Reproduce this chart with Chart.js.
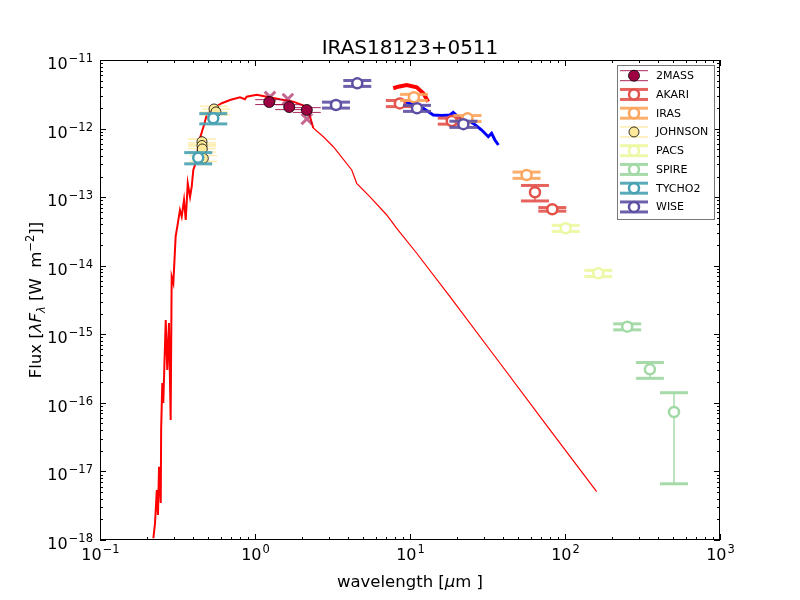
<!DOCTYPE html>
<html>
<head>
<meta charset="utf-8">
<script src="https://cdn.jsdelivr.net/npm/chart.js@4.4.0/dist/chart.umd.min.js"></script>
<style>
  body { margin: 0; background: #fff; }
</style>
</head>
<body>
<canvas id="sed" width="800" height="600"></canvas>
<script>
// photometry: wavelength in micron, flux (lambda F_lambda) in W m^-2
const twomassWave = [1.235, 1.662, 2.159];
const twomassFlux = [2.44e-12, 2.06e-12, 1.87e-12];
const twomassErr = [2.0e-13, 1.7e-13, 1.5e-13];

// the crossed-out 2MASS values
const flaggedWave = [1.25, 1.63, 2.16];
const flaggedFlux = [2.89e-12, 2.70e-12, 1.38e-12];

const akariWave = [8.6, 18.6, 64, 82.8];
const akariFlux = [2.33e-12, 1.29e-12, 1.18e-13, 6.65e-14];
const akariErr = [2.4e-13, 1.3e-13, 3.0e-14, 4.0e-15];

const irasWave = [10.6, 23.5, 56.5];
const irasFlux = [2.86e-12, 1.41e-12, 2.10e-13];
const irasErr = [2.9e-13, 1.4e-13, 2.2e-14];

const johnsonWave = [0.544, 0.560, 0.455, 0.455, 0.457, 0.464];
const johnsonFlux = [1.93e-12, 1.75e-12, 6.44e-13, 5.66e-13, 5.04e-13, 3.68e-13];
const johnsonErr = [1.9e-13, 1.7e-13, 6.0e-14, 5.5e-14, 5.0e-14, 3.6e-14];

const pacsWave = [101, 164];
const pacsFlux = [3.52e-14, 7.75e-15];
const pacsErr = [3.6e-15, 8.0e-16];

const spireWave = [252, 353, 505];
const spireFlux = [1.29e-15, 3.08e-16, 7.36e-17];
const spireErr = [1.3e-16, 8.0e-17, 6.7e-17];

const tychoWave = [0.43, 0.538];
const tychoFlux = [3.76e-13, 1.41e-12];
const tychoErr = [7.0e-14, 2.4e-13];

const wiseWave = [3.33, 4.57, 11.1, 22.1];
const wiseFlux = [2.21e-12, 4.57e-12, 1.98e-12, 1.16e-12];
const wiseErr = [2.2e-13, 4.5e-13, 2.0e-13, 1.2e-13];

// model SED
const modelWave = [0.221, 0.2265, 0.2325, 0.2366, 0.2404, 0.2466, 0.248, 0.2523, 0.256, 0.2655,
  0.2716, 0.2786, 0.2857, 0.290, 0.2973, 0.3076, 0.3152, 0.328, 0.3365, 0.3483,
  0.3573, 0.3683, 0.381, 0.3906, 0.400, 0.410, 0.4416, 0.469, 0.488, 0.538,
  0.610, 0.690, 0.800, 0.861, 0.883, 1.026, 1.19, 1.449, 1.766, 2.157,
  2.265, 2.377, 2.76, 3.20, 4.21, 4.53, 5.52, 7.08, 8.21, 11.05,
  18.1, 38.1, 80, 160];
const modelFlux = [1.06e-18, 1.77e-18, 5.36e-18, 2.32e-18, 1.17e-17, 3.47e-18, 4.02e-17, 1.95e-16, 9.95e-17, 1.62e-15,
  3.01e-16, 1.46e-15, 5.62e-17, 6.92e-15, 5.60e-15, 2.65e-14, 3.71e-14, 6.49e-14, 5.19e-14, 9.08e-14,
  4.64e-14, 1.59e-13, 1.01e-13, 1.42e-13, 2.49e-13, 2.94e-13, 7.29e-13, 1.13e-12, 1.58e-12, 1.98e-12,
  2.34e-12, 2.61e-12, 2.85e-12, 2.68e-12, 2.92e-12, 3.10e-12, 2.92e-12, 2.67e-12, 2.47e-12, 2.08e-12,
  1.49e-12, 1.02e-12, 7.61e-13, 5.44e-13, 2.49e-13, 1.59e-13, 1.01e-13, 5.49e-14, 3.51e-14, 1.52e-14,
  3.53e-15, 3.78e-16, 4.05e-17, 5.06e-18];

// spectra
const lrsWave = [7.8, 8.41, 9.52, 11.05, 12.19, 13.1];
const lrsFlux = [3.87e-12, 4.08e-12, 4.32e-12, 4.00e-12, 3.27e-12, 2.47e-12];
const irsWave = [8.61, 10.3, 12.19, 14.13, 16.08, 18.1, 19.0, 21.0, 23.0, 25.6, 29.0, 32.0, 33.6, 35.3, 37.2];
const irsFlux = [2.61e-12, 2.28e-12, 1.98e-12, 1.58e-12, 1.55e-12, 1.58e-12, 1.72e-12, 1.41e-12, 1.33e-12,
  1.19e-12, 9.53e-13, 7.61e-13, 8.53e-13, 6.81e-13, 5.76e-13];

const FONT = '"DejaVu Sans", sans-serif';
const CAP = 14;

function pts(w, f) {
  return w.map((v, i) => ({ x: v, y: f[i] }));
}

function survey(label, w, f, err, color, opts) {
  return Object.assign({
    label: label,
    data: pts(w, f),
    fluxErr: err,
    barColor: color,
    barWidth: 1.5,
    capWidth: 3,
    showLine: false,
    pointRadius: 5,
    pointBorderWidth: 2.5,
    pointBorderColor: color,
    pointBackgroundColor: '#ffffff'
  }, opts || {});
}

function line(ctx, x1, y1, x2, y2) {
  ctx.beginPath();
  ctx.moveTo(x1, y1);
  ctx.lineTo(x2, y2);
  ctx.stroke();
}

// vertical error bars with wide caps, drawn just under each survey's markers
const errorBars = {
  id: 'errorBars',
  beforeDatasetDraw(chart, args) {
    const ds = chart.data.datasets[args.index];
    if (!ds.fluxErr) return;
    const ctx = chart.ctx, xs = chart.scales.x, ys = chart.scales.y, a = chart.chartArea;
    ctx.save();
    ctx.beginPath();
    ctx.rect(a.left, a.top, a.right - a.left, a.bottom - a.top);
    ctx.clip();
    ctx.strokeStyle = ds.barColor;
    ds.data.forEach((p, i) => {
      const e = ds.fluxErr[i];
      const px = xs.getPixelForValue(p.x);
      const top = ys.getPixelForValue(p.y + e);
      const bot = ys.getPixelForValue(p.y - e);
      ctx.lineWidth = ds.barWidth;
      line(ctx, px, top, px, bot);
      ctx.lineWidth = ds.capWidth;
      line(ctx, px - CAP, top, px + CAP, top);
      line(ctx, px - CAP, bot, px + CAP, bot);
    });
    ctx.restore();
  }
};

function drawPow(ctx, exp, x, baseY, align) {
  const sup = (exp < 0 ? '\u2212' : '') + Math.abs(exp);
  ctx.font = '16px ' + FONT;
  const wb = ctx.measureText('10').width;
  ctx.font = '11.5px ' + FONT;
  const ws = ctx.measureText(sup).width;
  const total = wb + 1 + ws;
  const sx = align === 'center' ? x - total / 2 : x - total;
  ctx.font = '16px ' + FONT;
  ctx.fillText('10', sx, baseY);
  ctx.font = '11.5px ' + FONT;
  ctx.fillText(sup, sx + wb + 1, baseY - 7);
}

function drawRich(ctx, parts, cx, baseY) {
  let total = 0;
  parts.forEach(p => { ctx.font = p.f; p.w = ctx.measureText(p.t).width; total += p.w; });
  let x = cx - total / 2;
  parts.forEach(p => { ctx.font = p.f; ctx.fillText(p.t, x, baseY + (p.dy || 0)); x += p.w; });
}

const frame = {
  id: 'frame',
  afterDraw(chart) {
    const ctx = chart.ctx, xs = chart.scales.x, ys = chart.scales.y, a = chart.chartArea;
    ctx.save();
    ctx.strokeStyle = '#000';
    ctx.fillStyle = '#000';
    ctx.lineWidth = 1;
    ctx.strokeRect(a.left + 0.5, a.top + 0.5, a.right - a.left - 1, a.bottom - a.top - 1);

    ctx.textAlign = 'left';
    ctx.textBaseline = 'alphabetic';
    for (let d = -1; d <= 3; d++) {
      for (let k = 1; k <= 9; k++) {
        const v = k * Math.pow(10, d);
        if (v > 1000 * 1.0001) break;
        const px = Math.round(xs.getPixelForValue(v)) + 0.5;
        const len = k === 1 ? 6 : 3;
        line(ctx, px, a.bottom, px, a.bottom - len);
        line(ctx, px, a.top, px, a.top + len);
        if (k === 1) drawPow(ctx, d, px, 560, 'center');
      }
    }
    for (let d = -18; d <= -11; d++) {
      for (let k = 1; k <= 9; k++) {
        const v = k * Math.pow(10, d);
        if (d === -11 && k > 1) break;
        const py = Math.round(ys.getPixelForValue(v)) + 0.5;
        const len = k === 1 ? 6 : 3;
        line(ctx, a.left, py, a.left + len, py);
        line(ctx, a.right, py, a.right - len, py);
        if (k === 1) drawPow(ctx, d, a.left - 7, py + 8, 'right');
      }
    }

    // title and axis labels
    ctx.font = '20px ' + FONT;
    ctx.textAlign = 'center';
    ctx.fillText('IRAS18123+0511', (a.left + a.right) / 2, 54);
    ctx.textAlign = 'left';
    drawRich(ctx, [
      { t: 'wavelength [', f: '16.5px ' + FONT },
      { t: '\u03bc', f: 'italic 16.5px ' + FONT },
      { t: 'm ]', f: '16.5px ' + FONT }
    ], (a.left + a.right) / 2, 587);

    ctx.save();
    ctx.translate(41, (a.top + a.bottom) / 2);
    ctx.rotate(-Math.PI / 2);
    drawRich(ctx, [
      { t: 'Flux [', f: '16.5px ' + FONT },
      { t: '\u03bbF', f: 'italic 16.5px ' + FONT },
      { t: '\u03bb', f: 'italic 11.5px ' + FONT, dy: 4 },
      { t: ' [W  m', f: '16.5px ' + FONT },
      { t: '\u22122', f: '11.5px ' + FONT, dy: -7 },
      { t: ']]', f: '16.5px ' + FONT }
    ], 0, 0);
    ctx.restore();

    // legend
    const entries = chart.data.datasets.filter(ds => ds.fluxErr);
    ctx.fillStyle = '#fff';
    ctx.fillRect(617, 65, 98, 155);
    ctx.strokeStyle = '#777';
    ctx.lineWidth = 1;
    ctx.strokeRect(617.5, 65.5, 97, 154);
    entries.forEach((ds, i) => {
      const cy = 75.7 + i * 18.75, cx = 634;
      ctx.strokeStyle = ds.barColor;
      ctx.lineWidth = ds.barWidth;
      line(ctx, cx, cy - 5, cx, cy + 5);
      ctx.lineWidth = ds.capWidth;
      line(ctx, cx - CAP, cy - 5, cx + CAP, cy - 5);
      line(ctx, cx - CAP, cy + 5, cx + CAP, cy + 5);
      ctx.beginPath();
      ctx.arc(cx, cy, ds.pointRadius, 0, Math.PI * 2);
      ctx.fillStyle = ds.pointBackgroundColor;
      ctx.fill();
      ctx.lineWidth = ds.pointBorderWidth;
      ctx.strokeStyle = ds.pointBorderColor;
      ctx.stroke();
      ctx.fillStyle = '#000';
      ctx.font = '11px ' + FONT;
      ctx.textBaseline = 'middle';
      ctx.fillText(ds.label, 656, cy + 0.5);
      ctx.textBaseline = 'alphabetic';
    });
    ctx.restore();
  }
};

const thickEnd = 42;

const datasets = [
  { label: 'model', data: pts(modelWave.slice(0, thickEnd), modelFlux.slice(0, thickEnd)),
    borderColor: '#ff0000', borderWidth: 2, pointRadius: 0, order: 20 },
  { label: 'model tail', data: pts(modelWave.slice(thickEnd - 1), modelFlux.slice(thickEnd - 1)),
    borderColor: '#ff0000', borderWidth: 1.2, pointRadius: 0, order: 20 },
  { label: 'lrs', data: pts(lrsWave, lrsFlux), borderColor: '#ff0000', borderWidth: 4,
    pointRadius: 0, order: 19 },
  { label: 'irs', data: pts(irsWave, irsFlux), borderColor: '#0000ff', borderWidth: 3,
    pointRadius: 0, order: 18 },
  { label: 'flagged', data: pts(flaggedWave, flaggedFlux), showLine: false, pointStyle: 'crossRot',
    pointRadius: 7.5, pointBorderWidth: 3, pointBorderColor: 'rgba(158,1,66,0.6)', order: 9 },
  survey('2MASS', twomassWave, twomassFlux, twomassErr, 'rgba(158,1,66,0.85)',
    { barWidth: 1, capWidth: 1, pointRadius: 5.5, pointBorderWidth: 0.8, pointBorderColor: '#000',
      pointBackgroundColor: '#9e0142', order: 8 }),
  survey('AKARI', akariWave, akariFlux, akariErr, 'rgba(226,82,74,0.9)',
    { pointBorderColor: '#e2524a', order: 7 }),
  survey('IRAS', irasWave, irasFlux, irasErr, 'rgba(252,165,93,0.9)',
    { pointBorderColor: '#fca55d', order: 6 }),
  survey('JOHNSON', johnsonWave, johnsonFlux, johnsonErr, 'rgba(254,233,154,0.8)',
    { barWidth: 1.5, capWidth: 1.5, pointRadius: 5, pointBorderWidth: 0.8, pointBorderColor: '#000',
      pointBackgroundColor: '#fee99a', order: 5 }),
  survey('PACS', pacsWave, pacsFlux, pacsErr, 'rgba(237,248,163,0.95)',
    { pointBorderColor: '#edf8a3', order: 4 }),
  survey('SPIRE', spireWave, spireFlux, spireErr, 'rgba(161,217,164,0.95)',
    { pointBorderColor: '#a1d9a4', order: 3 }),
  survey('TYCHO2', tychoWave, tychoFlux, tychoErr, 'rgba(72,161,179,0.9)',
    { pointBorderColor: '#48a1b3', order: 2 }),
  survey('WISE', wiseWave, wiseFlux, wiseErr, 'rgba(94,79,162,0.9)',
    { pointBorderColor: '#5e4fa2', order: 1 })
];

new Chart(document.getElementById('sed').getContext('2d'), {
  type: 'line',
  data: { datasets: datasets },
  options: {
    responsive: false,
    animation: false,
    devicePixelRatio: 1,
    events: [],
    layout: { padding: { left: 100, right: 80, top: 60, bottom: 60 } },
    elements: { line: { tension: 0, fill: false } },
    plugins: { legend: { display: false }, tooltip: { enabled: false }, title: { display: false } },
    scales: {
      x: { type: 'logarithmic', min: 0.1, max: 1000, display: false },
      y: { type: 'logarithmic', min: 1e-18, max: 1e-11, display: false }
    }
  },
  plugins: [errorBars, frame]
});
</script>
</body>
</html>
